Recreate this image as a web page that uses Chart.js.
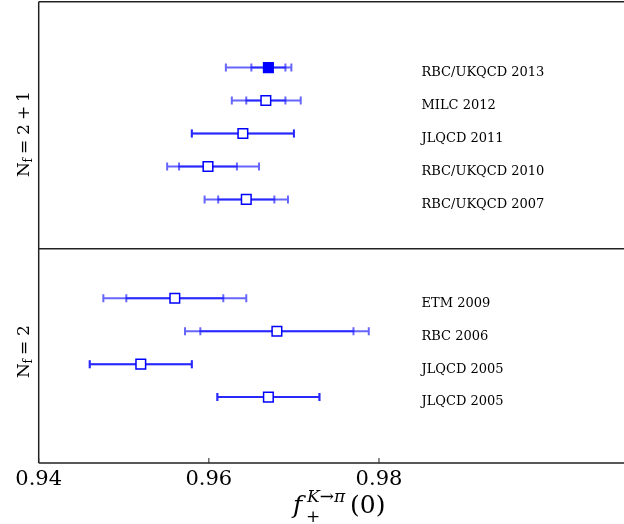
<!DOCTYPE html>
<html>
<head>
<meta charset="utf-8">
<script src="https://cdn.jsdelivr.net/npm/chart.js@4.4.1/dist/chart.umd.min.js"></script>
<style>
  html, body { margin: 0; padding: 0; background: #fff; }
</style>
</head>
<body>
<canvas id="myChart" width="624" height="524"></canvas>
<script>
// 各グループの結果（上: Nf=2+1, 下: Nf=2）
const labels  = ['RBC/UKQCD 2013', 'MILC 2012', 'JLQCD 2011', 'RBC/UKQCD 2010', 'RBC/UKQCD 2007',
                 'ETM 2009', 'RBC 2006', 'JLQCD 2005', 'JLQCD 2005'];
const rows    = [12, 11, 10, 9, 8, 5, 4, 3, 2];
const central = [0.9670, 0.9667, 0.9640, 0.9599, 0.9644, 0.9560, 0.9680, 0.9520, 0.9670];
const statLo  = [0.9650, 0.9644, 0.9580, 0.9565, 0.9611, 0.9503, 0.9590, 0.9460, 0.9610];
const statHi  = [0.9690, 0.9690, 0.9700, 0.9633, 0.9677, 0.9617, 0.9770, 0.9580, 0.9730];
const totLo   = [0.9620, 0.9627, 0.9580, 0.9551, 0.9595, 0.9476, 0.9572, 0.9460, 0.9610];
const totHi   = [0.9697, 0.9708, 0.9700, 0.9659, 0.9693, 0.9644, 0.9788, 0.9580, 0.9730];
const filled  = [true, false, false, false, false, false, false, false, false];
const xTicks  = [0.94, 0.96, 0.98];
const xMin = 0.94, xMax = 1.0088;
const yMin = 0, yMax = 14;
const divider = 6.5;      // パネルの境界
const labelX = 0.985;     // ラベルのx位置

const serif = '"DejaVu Serif", "Liberation Serif", serif';

// エラーバー（マーカーの下に描く）
const errorBars = {
  id: 'errorBars',
  beforeDatasetsDraw(chart) {
    const ctx = chart.ctx, xs = chart.scales.x, ys = chart.scales.y;
    ctx.save();
    ctx.lineWidth = 2;
    function bar(lo, hi, y) {
      const a = xs.getPixelForValue(lo), b = xs.getPixelForValue(hi);
      ctx.beginPath();
      ctx.moveTo(a, y); ctx.lineTo(b, y);
      ctx.moveTo(a, y - 4); ctx.lineTo(a, y + 4);
      ctx.moveTo(b, y - 4); ctx.lineTo(b, y + 4);
      ctx.stroke();
    }
    ctx.strokeStyle = 'rgba(0,0,255,0.6)';
    for (let i = 0; i < rows.length; i++) {
      const y = ys.getPixelForValue(rows[i]);
      bar(totLo[i], totHi[i], y);
      bar(statLo[i], statHi[i], y);
    }
    ctx.restore();
  }
};

// 枠線・目盛り・テキスト
const decorations = {
  id: 'decorations',
  afterDraw(chart) {
    const ctx = chart.ctx, xs = chart.scales.x, ys = chart.scales.y;
    const a = chart.chartArea;
    ctx.save();
    ctx.strokeStyle = '#222';
    ctx.lineWidth = 1.5;
    const yd = ys.getPixelForValue(divider);
    ctx.beginPath();
    ctx.moveTo(a.left, a.top); ctx.lineTo(a.right, a.top);
    ctx.moveTo(a.left, a.top); ctx.lineTo(a.left, a.bottom);
    ctx.moveTo(a.left, a.bottom); ctx.lineTo(a.right, a.bottom);
    ctx.moveTo(a.left, yd); ctx.lineTo(a.right, yd);
    ctx.stroke();
    ctx.lineWidth = 1;
    ctx.beginPath();
    xTicks.forEach(v => {
      const px = xs.getPixelForValue(v);
      ctx.moveTo(px, a.bottom); ctx.lineTo(px, a.bottom - 5);
    });
    ctx.stroke();

    // 各結果のラベル
    ctx.fillStyle = '#000';
    ctx.font = '13px ' + serif;
    ctx.textAlign = 'left';
    ctx.textBaseline = 'middle';
    const lx = xs.getPixelForValue(labelX);
    labels.forEach((t, i) => ctx.fillText(t, lx, ys.getPixelForValue(rows[i]) + 5));

    // 縦軸ラベル（回転）: 文字ごとに下端からの距離で置く
    function yLabel(glyphs, bottom) {
      ctx.save();
      ctx.translate(28.5, bottom);
      ctx.rotate(-Math.PI / 2);
      ctx.textBaseline = 'alphabetic';
      ctx.font = '17px ' + serif;
      ctx.fillText('N', 0, 0);
      ctx.font = '12px ' + serif;
      ctx.fillText('f', 14.5, 3);
      ctx.font = '17px ' + serif;
      glyphs.forEach(g => ctx.fillText(g[0], g[1], 0));
      ctx.restore();
    }
    yLabel([['=', 23], ['2', 42], ['+', 57], ['1', 75]], 177);
    yLabel([['=', 23], ['2', 42]], 378);

    // 横軸ラベル f_+^{K→π}(0)
    ctx.textBaseline = 'alphabetic';
    ctx.font = 'italic 25px ' + serif;
    ctx.fillText('f', 293, 513);
    ctx.font = 'italic 17px ' + serif;
    ctx.fillText('K→π', 307, 502);
    ctx.font = '17px ' + serif;
    ctx.fillText('+', 306, 522);
    ctx.font = '25px ' + serif;
    ctx.fillText('(0)', 350, 513);
    ctx.restore();
  }
};

const ctx = document.getElementById('myChart').getContext('2d');
const myChart = new Chart(ctx, {
  type: 'scatter',
  data: {
    datasets: [{
      data: central.map((v, i) => ({ x: v, y: rows[i] })),
      pointStyle: 'rect',
      pointRadius: 6.8,
      pointHoverRadius: 6.8,
      borderWidth: 1.5,
      borderColor: '#0000ff',
      backgroundColor: filled.map(f => f ? '#0000ff' : '#ffffff')
    }]
  },
  options: {
    responsive: false,
    animation: false,
    layout: { autoPadding: false, padding: { left: 38.7, top: 1.7, right: 0, bottom: 0 } },
    plugins: { legend: { display: false }, tooltip: { enabled: false } },
    scales: {
      x: {
        type: 'linear',
        min: xMin, max: xMax,
        grid: { display: false, drawTicks: false },
        border: { display: false },
        afterBuildTicks: axis => { axis.ticks = xTicks.map(v => ({ value: v })); },
        afterFit: axis => { axis.height = 61; },
        ticks: {
          padding: 4,
          color: '#000',
          font: { family: serif, size: 21 },
          callback: v => v.toFixed(2)
        }
      },
      y: {
        type: 'linear',
        display: false,
        min: yMin, max: yMax
      }
    }
  },
  plugins: [errorBars, decorations]
});
</script>
</body>
</html>
